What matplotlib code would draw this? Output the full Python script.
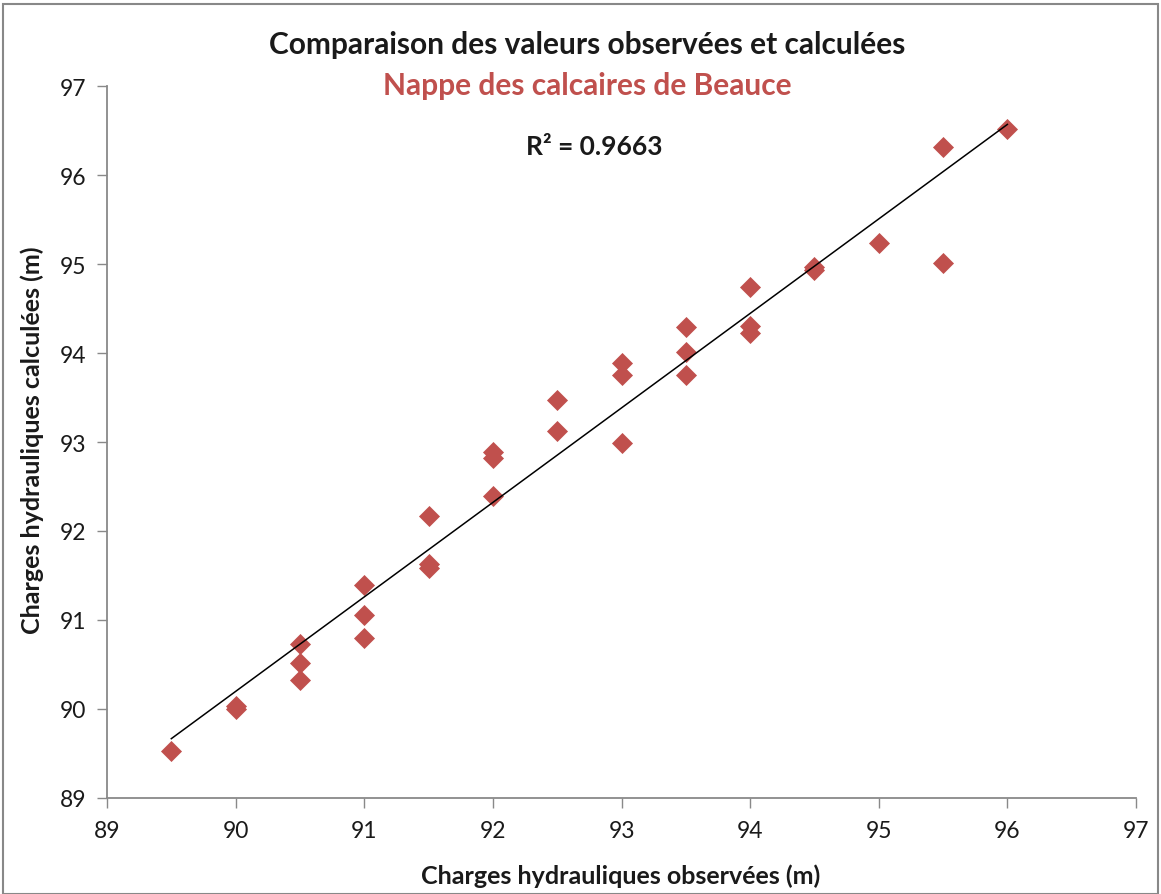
import numpy as np
import matplotlib.pyplot as plt
from matplotlib.patches import Rectangle

obs = [89.5, 90.0, 90.0, 90.5, 90.5, 90.5, 91.0, 91.0, 91.0, 91.5, 91.5, 91.5,
       92.0, 92.0, 92.0, 92.5, 92.5, 93.0, 93.0, 93.0, 93.5, 93.5, 93.5,
       94.0, 94.0, 94.0, 94.5, 94.5, 95.0, 95.5, 95.5, 96.0]
calc = [89.53, 90.03, 90.00, 90.73, 90.52, 90.33, 91.39, 91.06, 90.80, 92.17, 91.63, 91.58,
        92.89, 92.82, 92.39, 93.47, 93.12, 93.89, 93.75, 92.99, 94.29, 94.01, 93.75,
        94.74, 94.30, 94.23, 94.97, 94.93, 95.24, 96.31, 95.01, 96.52]
ticks = [89, 90, 91, 92, 93, 94, 95, 96, 97]

plt.rcParams['font.family'] = ['Lato', 'DejaVu Sans']

fig = plt.figure(figsize=(11.61, 8.95), dpi=100)
ax = fig.add_axes([107/1161, 1-799/895, (1136-107)/1161, (799-87)/895])

ax.scatter(obs, calc, marker='D', s=115, color='#C0504D', zorder=3, linewidths=0)
a, b = np.polyfit(obs, calc, 1)
xs = np.array([min(obs), max(obs)])
ax.plot(xs, a*xs+b, color='black', lw=1.1, zorder=4)

ax.set_xlim(89, 97)
ax.set_ylim(89, 97)
ax.set_xticks(ticks)
ax.set_yticks(ticks)
ax.tick_params(labelsize=16.5, colors='#898989', labelcolor='#1a1a1a', length=7, width=1)
ax.tick_params(axis='x', pad=9)
ax.tick_params(axis='y', pad=8)
for s in ['top', 'right']:
    ax.spines[s].set_visible(False)
for s in ['left', 'bottom']:
    ax.spines[s].set_color('#898989')
    ax.spines[s].set_linewidth(1.3)

fig.text(587/1161, 1-45/895, 'Comparaison des valeurs observées et calculées',
         ha='center', va='center', fontsize=21.5, fontweight='bold', color='#1a1a1a')
fig.text(587/1161, 1-86/895, 'Nappe des calcaires de Beauce',
         ha='center', va='center', fontsize=21.5, fontweight='bold', color='#C0504D')
fig.text(594/1161, 1-147/895, 'R² = 0.9663',
         ha='center', va='center', fontsize=19, fontweight='bold', color='#1a1a1a')
fig.text(621/1161, 1-876/895, 'Charges hydrauliques observées (m)',
         ha='center', va='center', fontsize=18, fontweight='bold', color='#1a1a1a')
fig.text(32/1161, 1-440/895, 'Charges hydrauliques calculées (m)', rotation=90,
         ha='center', va='center', fontsize=18, fontweight='bold', color='#1a1a1a')

fig.patches.append(Rectangle((3/1161, 0), 1-6/1161, 1-5/895, transform=fig.transFigure,
                             fill=False, edgecolor='#888888', lw=1.5))

fig.savefig('out.png', dpi=100)
